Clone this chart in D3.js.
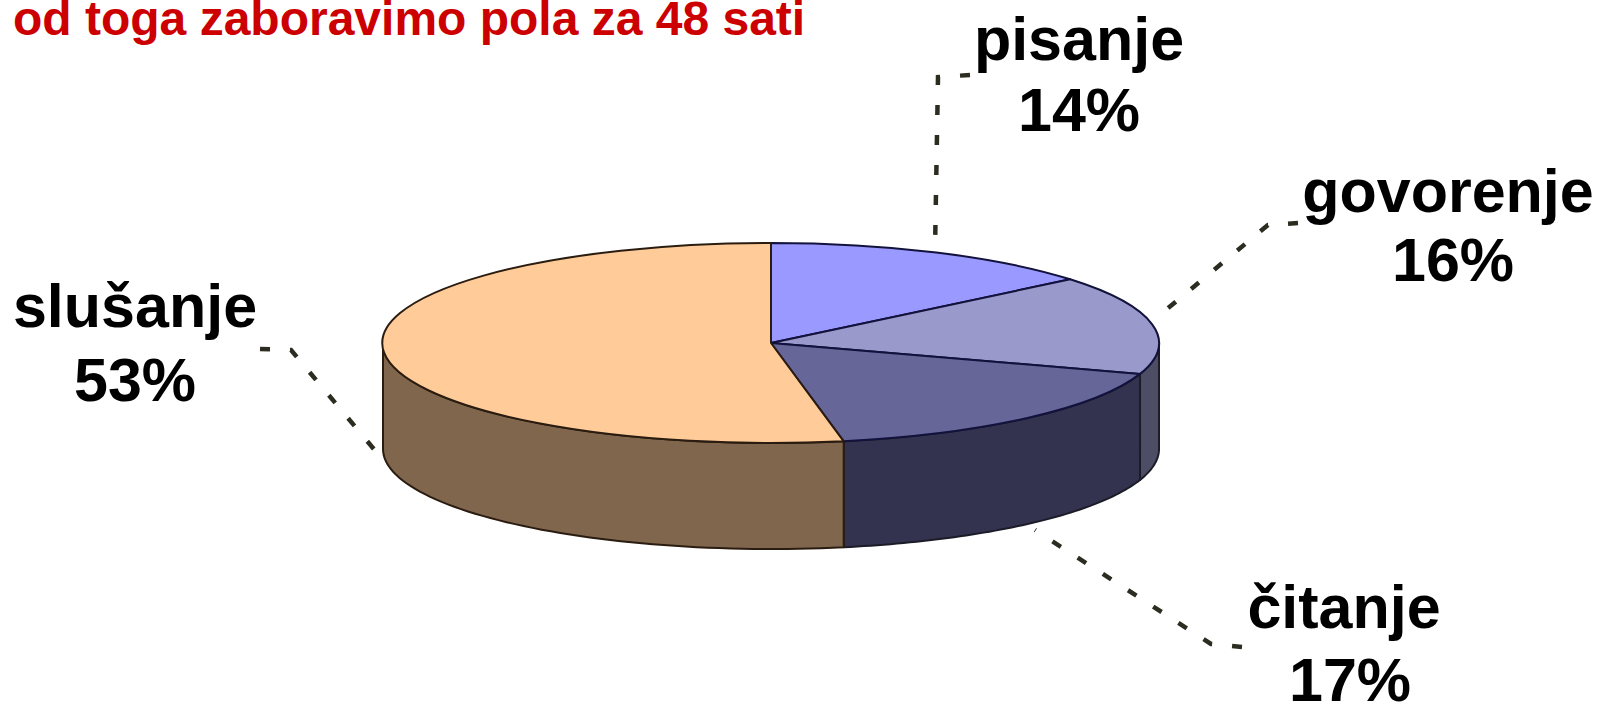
<!DOCTYPE html>
<html>
<head>
<meta charset="utf-8">
<script src="https://cdn.jsdelivr.net/npm/d3@7"></script>
<style>
  body { margin: 0; background: #fff; }
  svg { display: block; }
  text { font-family: "Liberation Sans", Arial, sans-serif; font-weight: bold; }
</style>
</head>
<body>
<div id="chart"></div>
<script>
const title = "od toga zaboravimo pola za 48 sati";
const categories = ["pisanje", "govorenje", "čitanje", "slušanje"];
const values = [14, 16, 17, 53];
const topColors = ["#9999ff", "#9999cc", "#666699", "#ffcc99"];
const sideColors = ["#4d4d80", "#4d4d66", "#333350", "#80664d"];

// label centres + baselines, and the dotted leaders, drawn from the label end
const labelX1 = [1079, 1448, 1344, 135];
const labelX2 = [1079, 1453, 1350, 135];
const labelY1 = [60, 212, 628, 327];
const labelY2 = [131, 281, 701, 401];
const leaders = [
  [[970, 75], [938, 77], [935, 250]],
  [[1298, 223], [1268, 225], [1155, 319]],
  [[1242, 647], [1211, 644], [1035, 530]],
  [[260, 349], [291, 350], [383, 460]]
];

const width = 1603;
const height = 704;
const cx = 771;
const cy = 343;
const rx = 388;
const ry = 100;
const depth = 106;

const svg = d3.select("#chart")
  .append("svg")
  .attr("width", width)
  .attr("height", height);

const pie = d3.pie().sort(null).value(d => d);
const slices = pie(values);

// d3.arc on a unit circle, squashed to an ellipse by the transform
const arc = d3.arc().innerRadius(0).outerRadius(1);

const px = a => cx + rx * Math.sin(a);
const py = a => cy - ry * Math.cos(a);

// only the front half of the rim (90deg to 270deg) can be seen
function wallPath(d) {
  const a0 = Math.max(d.startAngle, Math.PI / 2);
  const a1 = Math.min(d.endAngle, Math.PI * 1.5);
  if (a1 <= a0) return null;
  const angles = d3.range(0, 61).map(i => a0 + (a1 - a0) * i / 60);
  const upper = angles.map(a => [px(a), py(a)]);
  const lower = angles.slice().reverse().map(a => [px(a), py(a) + depth]);
  return d3.line()(upper.concat(lower)) + "Z";
}

svg.append("g")
  .selectAll("path")
  .data(slices)
  .enter()
  .append("path")
  .attr("d", wallPath)
  .attr("fill", (d, i) => sideColors[i])
  .attr("stroke", (d, i) => i === 3 ? "#2a1c10" : "#1c1c28")
  .attr("stroke-width", 2)
  .attr("stroke-linejoin", "round");

svg.append("g")
  .attr("transform", `translate(${cx},${cy}) scale(${rx},${ry})`)
  .selectAll("path")
  .data(slices)
  .enter()
  .append("path")
  .attr("d", arc)
  .attr("fill", (d, i) => topColors[i])
  .attr("stroke", (d, i) => i === 3 ? "#2a1c10" : "#12123c")
  .attr("stroke-width", 2)
  .attr("stroke-linejoin", "round")
  .attr("vector-effect", "non-scaling-stroke");

svg.append("g")
  .selectAll("path")
  .data(leaders)
  .enter()
  .append("path")
  .attr("d", d3.line())
  .attr("fill", "none")
  .attr("stroke", "#2c2c20")
  .attr("stroke-width", 4.5)
  .attr("stroke-dasharray", "10 20");

svg.append("text")
  .attr("x", 13)
  .attr("y", 35)
  .attr("fill", "#cc0000")
  .style("font-size", "48px")
  .text(title);

const labels = svg.append("g")
  .selectAll("g")
  .data(categories)
  .enter()
  .append("g")
  .attr("text-anchor", "middle")
  .attr("fill", "#000")
  .style("font-size", "61px");

labels.append("text")
  .attr("x", (d, i) => labelX1[i])
  .attr("y", (d, i) => labelY1[i])
  .text(d => d);

labels.append("text")
  .attr("x", (d, i) => labelX2[i])
  .attr("y", (d, i) => labelY2[i])
  .text((d, i) => values[i] + "%");
</script>
</body>
</html>
